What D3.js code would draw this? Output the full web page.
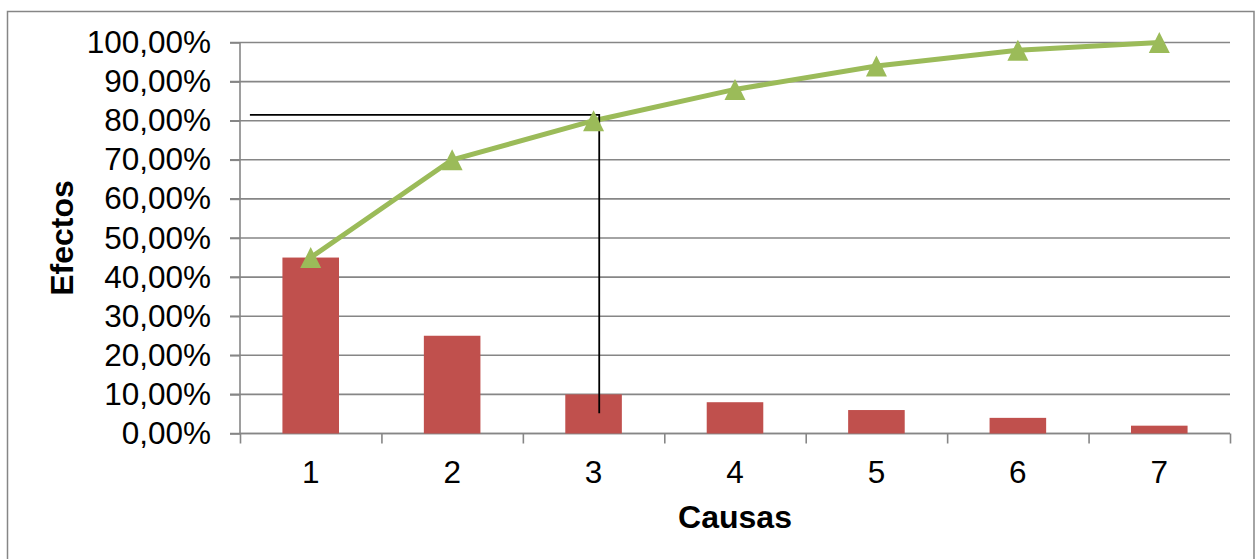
<!DOCTYPE html>
<html><head><meta charset="utf-8">
<script src="https://cdn.jsdelivr.net/npm/d3@7"></script>
<style>body{margin:0;background:#fff}svg{display:block}text{font-family:"Liberation Sans",Arial,sans-serif}</style>
</head><body>
<svg id="c" width="1259" height="559"></svg>
<script>
const categories = ["1","2","3","4","5","6","7"];
const effects = [45, 25, 10, 8, 6, 4, 2];
const cumulative = [45, 70, 80, 88, 94, 98, 100];
const yTicks = [0,10,20,30,40,50,60,70,80,90,100];
// annotation (category index position, percent)
const guideLine = [[0.07, 81.5], [2.54, 81.5], [2.54, 5.2]];

const svg = d3.select("#c");
const m = {l:240, r:1230, t:42.5, b:433.5};
const x = d3.scaleBand().domain(categories).range([m.l, m.r]).paddingInner(0.6).paddingOuter(0.3);
const xc = d3.scaleLinear().domain([0, categories.length]).range([m.l, m.r]);
const y = d3.scaleLinear().domain([0,100]).range([m.b, m.t]);
const grid = "#868686";

svg.append("rect").attr("x",7.5).attr("y",11.5).attr("width",1246.5).attr("height",600)
  .attr("fill","none").attr("stroke",grid).attr("stroke-width",1.5);

// gridlines
svg.append("g").selectAll("line").data(yTicks).join("line")
  .attr("x1", m.l-10).attr("x2", m.r).attr("y1", d=>y(d)).attr("y2", d=>y(d))
  .attr("stroke", grid).attr("stroke-width", 1.6);

// y axis
const ya = svg.append("g").attr("transform",`translate(${m.l},0)`)
  .call(d3.axisLeft(y).tickValues(yTicks).tickSize(10).tickPadding(19)
    .tickFormat(d => d3.format(".2f")(d).replace(".", ",") + "%"));
ya.select(".domain").attr("stroke", grid).attr("stroke-width",1.6).attr("d", `M0,${m.t}V${m.b}`);
ya.selectAll(".tick line").attr("stroke", grid).attr("stroke-width",1.6);
ya.selectAll("text").attr("font-size",31.5).attr("fill","#000").attr("font-family","Liberation Sans, Arial, sans-serif");

// x axis
const xa = svg.append("g").attr("transform",`translate(0,${m.b})`)
  .call(d3.axisBottom(xc).tickValues(d3.range(0, categories.length+1)).tickSize(10).tickFormat(""));
xa.select(".domain").attr("stroke", grid).attr("stroke-width",1.6).attr("d", `M${m.l},0H${m.r}`);
xa.selectAll(".tick line").attr("stroke", grid).attr("stroke-width",1.6);
svg.append("g").selectAll("text").data(categories).join("text")
  .attr("x", d => x(d)+x.bandwidth()/2).attr("y", 483).attr("text-anchor","middle")
  .attr("font-size",31.5).text(d=>d);

// bars
svg.append("g").selectAll("rect").data(effects).join("rect")
  .attr("x",(d,i)=>x(categories[i])).attr("width",x.bandwidth())
  .attr("y",d=>y(d)).attr("height",d=>y(0)-y(d)).attr("fill","#C0504D");

// cumulative line
const pts = cumulative.map((v,i)=>[x(categories[i])+x.bandwidth()/2, y(v)]);
svg.append("path").attr("d", d3.line()(pts))
  .attr("fill","none").attr("stroke","#9BBB59").attr("stroke-width",5).attr("stroke-linejoin","round");

// guide line
svg.append("path").attr("d", d3.line()(guideLine.map(p=>[xc(p[0]), y(p[1])])))
  .attr("fill","none").attr("stroke","#000").attr("stroke-width",1.8);

// markers
svg.append("g").selectAll("path").data(pts).join("path")
  .attr("transform", d=>`translate(${d[0]},${d[1]})`)
  .attr("d","M0,-10.5L10.5,10.5L-10.5,10.5Z").attr("fill","#9BBB59");

// titles
svg.append("text").attr("x",735).attr("y",528).attr("text-anchor","middle")
  .attr("font-size",32).attr("font-weight","bold").text("Causas");
svg.append("text").attr("transform","translate(73,238) rotate(-90)").attr("text-anchor","middle")
  .attr("font-size",32).attr("font-weight","bold").text("Efectos");
</script>
</body></html>
